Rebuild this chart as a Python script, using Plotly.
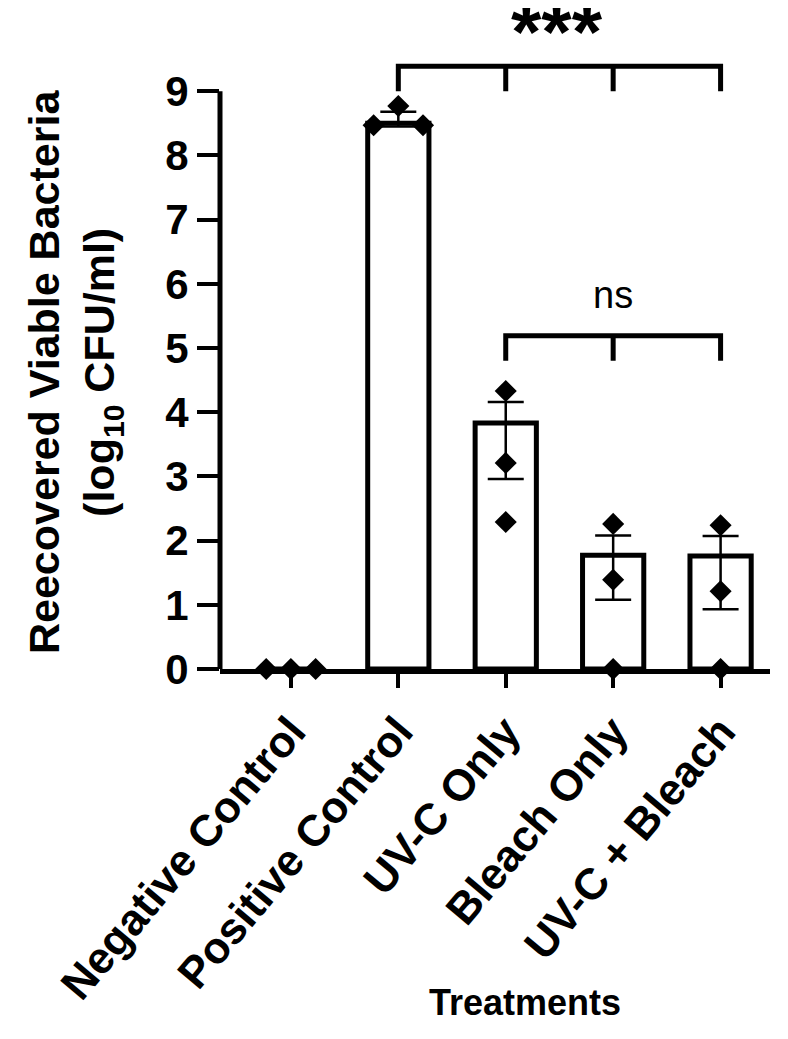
import plotly.graph_objects as go

categories = ["Negative Control", "Positive Control", "UV-C Only", "Bleach Only", "UV-C + Bleach"]
means = [0.0, 8.50, 3.83, 1.77, 1.76]
err_plus = [0.0, 0.18, 0.33, 0.31, 0.31]
err_minus = [0.0, 0.05, 0.87, 0.69, 0.83]
points = [
    [0.0, 0.0, 0.0],
    [8.47, 8.77, 8.47],
    [4.33, 3.21, 2.29],
    [2.26, 1.39, 0.0],
    [2.24, 1.21, 0.0],
]
y_tick_vals = [0, 1, 2, 3, 4, 5, 6, 7, 8, 9]

# horizontal spread of replicate markers (style only)
spread = [[-0.23, 0, 0.23], [-0.23, 0, 0.23], [0, 0, 0], [0, 0, 0], [0, 0, 0]]

FONT = "Liberation Sans, Arial, sans-serif"
Y_TOP = 10.296
X_RANGE = [-0.66, 4.46]

fig = go.Figure()
fig.add_trace(go.Bar(
    x=list(range(len(categories))), y=means, width=0.57,
    marker=dict(color="white", line=dict(color="black", width=5)),
    error_y=dict(type="data", symmetric=False, array=err_plus, arrayminus=err_minus,
                 color="black", thickness=2.5, width=18),
    showlegend=False, hoverinfo="skip",
))

px, py = [], []
for i, vals in enumerate(points):
    for off, v in zip(spread[i], vals):
        px.append(i + off)
        py.append(v)
fig.add_trace(go.Scatter(
    x=px, y=py, mode="markers", cliponaxis=False,
    marker=dict(symbol="diamond", size=17, color="black"),
    showlegend=False, hoverinfo="skip",
))

# y axis line from 0 to 9 only
fig.add_shape(type="line", xref="paper", yref="paper", x0=0, x1=0,
              y0=0, y1=9 / Y_TOP, line=dict(color="black", width=5))

# significance brackets
def bracket(xs, y_low, y_high):
    d = f"M {xs[0]} {y_low} L {xs[0]} {y_high} L {xs[-1]} {y_high} L {xs[-1]} {y_low}"
    for x in xs[1:-1]:
        d += f" M {x} {y_high} L {x} {y_low}"
    fig.add_shape(type="path", xref="x", yref="y", path=d,
                  line=dict(color="black", width=5))

bracket([1, 2, 3, 4], 9.0, 9.39)
bracket([2, 3, 4], 4.80, 5.19)

fig.add_annotation(x=2.48, y=9.93, xref="x", yref="y", text="***", showarrow=False,
                   font=dict(family=FONT, size=78, color="black", weight="bold"),
                   yanchor="middle")
fig.add_annotation(x=3.0, y=5.83, xref="x", yref="y", text="ns", showarrow=False,
                   font=dict(family=FONT, size=38, color="black"), yanchor="middle")

fig.add_annotation(x=-0.264, y=0.449, xref="paper", yref="paper",
                   text="Reecovered Viable Bacteria<br>(log<sub>10</sub> CFU/ml)",
                   textangle=-90, showarrow=False, xanchor="center", yanchor="middle",
                   font=dict(family=FONT, size=43, color="black", weight="bold"))
fig.add_annotation(x=0.555, y=-0.505, xref="paper", yref="paper", text="Treatments",
                   showarrow=False, xanchor="center", yanchor="middle",
                   font=dict(family=FONT, size=36, color="black", weight="bold"))

fig.update_layout(
    width=788, height=1039,
    margin=dict(l=212, r=26, t=0, b=378),
    plot_bgcolor="white", paper_bgcolor="white",
    xaxis=dict(range=X_RANGE, tickvals=list(range(len(categories))), ticktext=categories,
               tickangle=-50, showline=True, linecolor="black", linewidth=5,
               ticks="outside", ticklen=14, tickwidth=4, tickcolor="black",
               showgrid=False, zeroline=False,
               tickfont=dict(family=FONT, size=44, color="black", weight="bold")),
    yaxis=dict(range=[0, Y_TOP], tickvals=y_tick_vals, showline=False,
               ticks="outside", ticklen=22, tickwidth=4, tickcolor="black",
               showgrid=False, zeroline=False,
               tickfont=dict(family=FONT, size=42, color="black", weight="bold")),
)

fig.write_html("out.html")
